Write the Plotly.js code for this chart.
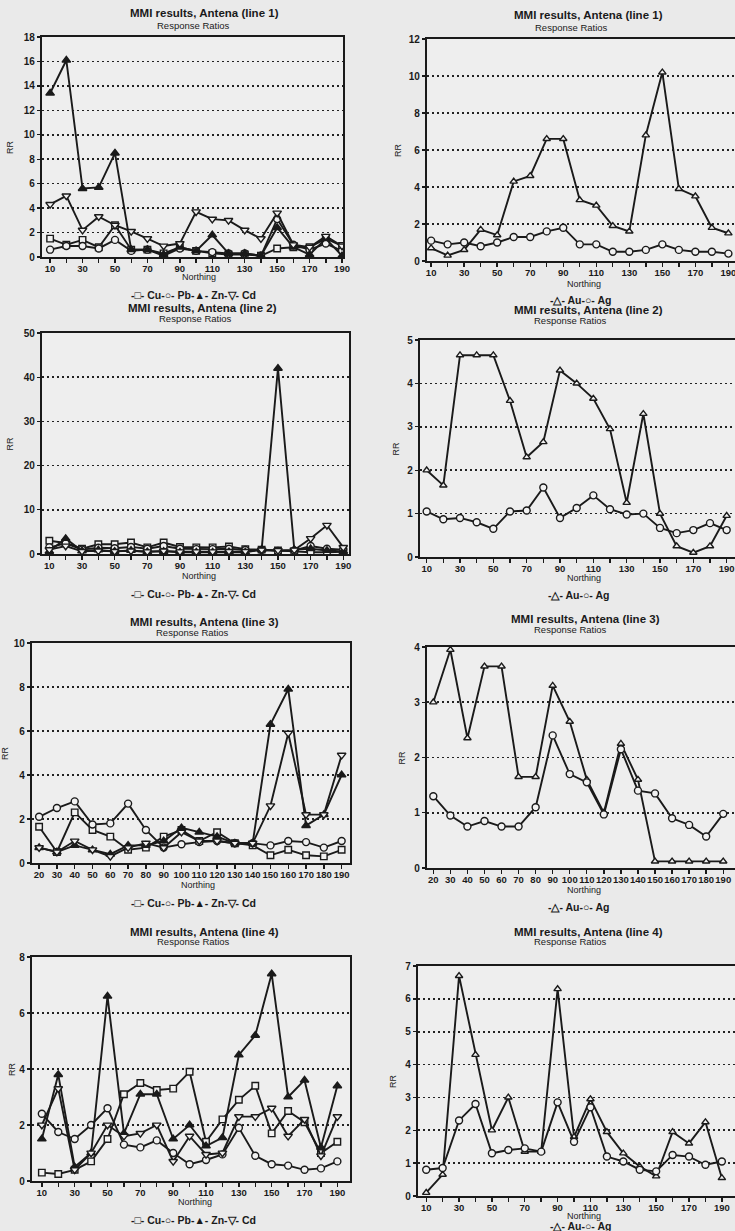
<!DOCTYPE html>
<html>
<head>
<meta charset="utf-8">
<script src="https://cdn.plot.ly/plotly-3.0.1.min.js"></script>
<style>
  html, body { margin: 0; padding: 0; background: #eaeaea; }
  #chart { width: 735px; height: 1231px; }
</style>
</head>
<body>
<div id="chart"></div>
<script>
// Sample stations along each line (Northing)
const northing = [10, 20, 30, 40, 50, 60, 70, 80, 90, 100, 110, 120, 130, 140, 150, 160, 170, 180, 190];
const northingLine3 = [20, 30, 40, 50, 60, 70, 80, 90, 100, 110, 120, 130, 140, 150, 160, 170, 180, 190];

// Tick labels
const tickTextAlternate = ['10', '', '30', '', '50', '', '70', '', '90', '', '110', '', '130', '', '150', '', '170', '', '190'];
const tickTextLine3 = ['20', '30', '40', '50', '60', '70', '80', '90', '100', '110', '120', '130', '140', '150', '160', '170', '180', '190'];

// Line 1 response ratios
const cuLine1 = [1.5, 1.0, 1.4, 0.8, 2.6, 0.6, 0.6, 0.3, 0.8, 0.5, 0.3, 0.2, 0.2, 0.1, 0.7, 0.8, 0.8, 1.5, 0.9];
const pbLine1 = [0.6, 0.9, 0.9, 0.7, 1.4, 0.5, 0.6, 0.1, 0.7, 0.5, 0.4, 0.3, 0.3, 0.1, 3.1, 1.0, 0.6, 1.1, 0.5];
const znLine1 = [13.4, 16.1, 5.6, 5.7, 8.5, 0.6, 0.6, 0.2, 0.8, 0.5, 1.8, 0.3, 0.3, 0.1, 2.4, 0.8, 0.2, 1.5, 0.1];
const cdLine1 = [4.3, 5.0, 2.2, 3.3, 2.6, 2.1, 1.5, 0.9, 1.1, 3.7, 3.1, 3.0, 2.2, 1.5, 3.6, 1.0, 0.8, 1.7, 0.9];
const auLine1 = [0.7, 0.3, 0.6, 1.7, 1.4, 4.3, 4.6, 6.6, 6.6, 3.3, 3.0, 1.9, 1.6, 6.8, 10.2, 3.9, 3.5, 1.8, 1.5];
const agLine1 = [1.1, 0.9, 1.0, 0.8, 1.0, 1.3, 1.3, 1.6, 1.8, 0.9, 0.9, 0.5, 0.5, 0.6, 0.9, 0.6, 0.5, 0.5, 0.4];

// Line 2 response ratios
const cuLine2 = [3.0, 2.5, 1.2, 2.2, 2.2, 2.6, 1.5, 2.6, 1.6, 1.5, 1.5, 1.7, 1.1, 1.0, 0.8, 0.6, 0.4, 0.4, 0.5];
const pbLine2 = [1.5, 2.4, 1.0, 1.4, 1.3, 1.6, 1.2, 1.8, 1.2, 1.1, 1.1, 1.2, 0.9, 0.9, 0.7, 0.8, 1.8, 1.2, 1.0];
const znLine2 = [0.6, 3.5, 0.7, 0.9, 0.6, 0.8, 0.5, 0.6, 0.4, 0.4, 0.4, 0.5, 0.4, 1.0, 42.0, 1.0, 1.2, 0.8, 0.6];
const cdLine2 = [1.0, 1.8, 0.6, 0.7, 0.6, 0.7, 0.5, 0.7, 0.5, 0.5, 0.5, 0.6, 0.6, 0.9, 0.8, 0.9, 3.5, 6.5, 1.5];
const auLine2 = [2.0, 1.65, 4.65, 4.65, 4.65, 3.6, 2.3, 2.65, 4.3, 4.0, 3.65, 2.95, 1.25, 3.3, 1.0, 0.25, 0.1, 0.25, 0.95];
const agLine2 = [1.05, 0.87, 0.9, 0.8, 0.65, 1.05, 1.07, 1.6, 0.9, 1.13, 1.42, 1.1, 0.98, 1.0, 0.67, 0.55, 0.62, 0.78, 0.62];

// Line 3 response ratios (stations 20-190)
const cuLine3 = [1.65, 0.5, 2.3, 1.5, 1.2, 0.6, 0.7, 1.2, 1.5, 1.0, 1.4, 0.9, 0.8, 0.35, 0.6, 0.35, 0.3, 0.6];
const pbLine3 = [2.1, 2.5, 2.8, 1.75, 1.8, 2.7, 1.5, 0.7, 0.85, 0.95, 1.0, 0.9, 0.9, 0.8, 1.0, 0.95, 0.7, 1.0];
const znLine3 = [0.7, 0.5, 0.8, 0.6, 0.4, 0.8, 0.8, 1.0, 1.6, 1.4, 1.2, 0.9, 0.9, 6.3, 7.9, 1.7, 2.2, 4.0];
const cdLine3 = [0.7, 0.5, 1.0, 0.6, 0.3, 0.7, 0.9, 0.7, 1.4, 1.0, 1.0, 0.9, 0.9, 2.6, 5.9, 2.2, 2.2, 4.9];
const auLine3 = [3.0, 3.95, 2.35, 3.65, 3.65, 1.65, 1.65, 3.3, 2.65, 1.6, 1.0, 2.25, 1.6, 0.12, 0.12, 0.12, 0.12, 0.12];
const agLine3 = [1.3, 0.95, 0.75, 0.85, 0.75, 0.75, 1.1, 2.4, 1.7, 1.55, 0.97, 2.15, 1.4, 1.35, 0.9, 0.78, 0.57, 0.98];

// Line 4 response ratios
const cuLine4 = [0.3, 0.25, 0.4, 0.7, 1.5, 3.1, 3.5, 3.25, 3.3, 3.9, 1.4, 2.2, 2.9, 3.4, 1.7, 2.5, 2.1, 1.0, 1.4];
const pbLine4 = [2.4, 1.75, 1.5, 2.0, 2.6, 1.3, 1.2, 1.45, 1.0, 0.6, 0.75, 0.95, 1.9, 0.9, 0.6, 0.55, 0.4, 0.45, 0.7];
const znLine4 = [1.5, 3.8, 0.5, 1.0, 6.6, 1.7, 3.1, 3.1, 1.5, 2.0, 1.25, 1.55, 4.5, 5.2, 7.4, 3.0, 3.6, 1.2, 3.4];
const cdLine4 = [2.0, 3.3, 0.4, 1.0, 2.0, 1.6, 1.7, 2.0, 0.7, 1.6, 0.95, 1.0, 2.3, 2.3, 2.6, 1.6, 2.2, 0.9, 2.3];
const auLine4 = [0.1, 0.65, 6.7, 4.3, 2.0, 3.0, 1.35, 1.35, 6.3, 1.8, 2.95, 1.95, 1.3, 0.9, 0.6, 1.95, 1.6, 2.25, 0.55];
const agLine4 = [0.8, 0.85, 2.3, 2.8, 1.3, 1.4, 1.45, 1.35, 2.85, 1.65, 2.7, 1.2, 1.05, 0.8, 0.75, 1.25, 1.2, 0.95, 1.05];

// Text
const titles = ['MMI results, Antena (line 1)', 'MMI results, Antena (line 2)', 'MMI results, Antena (line 3)', 'MMI results, Antena (line 4)'];
const subtitle = 'Response Ratios';
const xTitle = 'Northing';
const yTitle = 'RR';
const baseLegend = '-\u25A1- Cu-\u25CB- Pb-\u25B2- Zn-\u25BD- Cd';
const preciousLegend = '-\u25B3- Au-\u25CB- Ag';

// ---------- styling / layout ----------
const W = 735, H = 1231;
const INK = '#1a1a1a';
const PAPER = '#eaeaea';
const PLOT = '#eeeeee';
const FONT = 'Liberation Sans, Arial, sans-serif';

const markerStyle = {
  Cu: { symbol: 'square', fill: '#f2f2f2', size: 6.5 },
  Pb: { symbol: 'circle', fill: '#f2f2f2', size: 7 },
  Zn: { symbol: 'triangle-up', fill: INK, size: 7.5 },
  Cd: { symbol: 'triangle-down', fill: '#f2f2f2', size: 7.5 },
  Au: { symbol: 'triangle-up', fill: '#f2f2f2', size: 6.5 },
  Ag: { symbol: 'circle', fill: '#f2f2f2', size: 7 }
};

// pixel placement of each panel on the page
const panels = [
  { x: northing, tick: tickTextAlternate, series: { Cu: cuLine1, Pb: pbLine1, Zn: znLine1, Cd: cdLine1 }, title: titles[0], legend: baseLegend,
    left: 42, right: 343, top: 37, bottom: 257, yMax: 18, dtick: 2, xr: [5, 190.6],
    titleY: 13, subY: 25, northY: 277, legendY: 295, rrX: 10, titleX: 204, subX: 193, northX: 199, legendX: 193, rightCol: false },
  { x: northing, tick: tickTextAlternate, series: { Au: auLine1, Ag: agLine1 }, title: titles[0], legend: preciousLegend,
    left: 427, right: 735, top: 39, bottom: 261, yMax: 12, dtick: 2, xr: [7.5, 194],
    titleY: 15, subY: 28, northY: 284, legendY: 300, rrX: 398, titleX: 588, subX: 571, northX: 584, legendX: 580, rightCol: true },
  { x: northing, tick: tickTextAlternate, series: { Cu: cuLine2, Pb: pbLine2, Zn: znLine2, Cd: cdLine2 }, title: titles[1], legend: baseLegend,
    left: 42, right: 349, top: 333, bottom: 554, yMax: 50, dtick: 10, xr: [5.5, 193.5],
    titleY: 308, subY: 318, northY: 576, legendY: 594, rrX: 9, titleX: 202, subX: 195, northX: 199, legendX: 193, rightCol: false },
  { x: northing, tick: tickTextAlternate, series: { Au: auLine2, Ag: agLine2 }, title: titles[1], legend: preciousLegend,
    left: 420, right: 735, top: 340, bottom: 557, yMax: 5, dtick: 1, xr: [6, 195],
    titleY: 310, subY: 320, northY: 578, legendY: 595, rrX: 395, titleX: 588, subX: 570, northX: 584, legendX: 578, rightCol: true },
  { x: northingLine3, tick: tickTextLine3, series: { Cu: cuLine3, Pb: pbLine3, Zn: znLine3, Cd: cdLine3 }, title: titles[2], legend: baseLegend,
    left: 32, right: 350, top: 643, bottom: 863, yMax: 10, dtick: 2, xr: [16, 194.7],
    titleY: 622, subY: 632, northY: 885, legendY: 903, rrX: 5, titleX: 204, subX: 192, northX: 198, legendX: 193, rightCol: false },
  { x: northingLine3, tick: tickTextLine3, series: { Au: auLine3, Ag: agLine3 }, title: titles[2], legend: preciousLegend,
    left: 427, right: 735, top: 647, bottom: 868, yMax: 4, dtick: 1, xr: [16.3, 196.9],
    titleY: 619, subY: 629, northY: 890, legendY: 907, rrX: 402, titleX: 585, subX: 570, northX: 584, legendX: 578, rightCol: true },
  { x: northing, tick: tickTextAlternate, series: { Cu: cuLine4, Pb: pbLine4, Zn: znLine4, Cd: cdLine4 }, title: titles[3], legend: baseLegend,
    left: 32, right: 350, top: 957, bottom: 1181, yMax: 8, dtick: 2, xr: [4, 197.7],
    titleY: 932, subY: 941, northY: 1202, legendY: 1220, rrX: 12, titleX: 205, subX: 193, northX: 195, legendX: 193, rightCol: false },
  { x: northing, tick: tickTextAlternate, series: { Au: auLine4, Ag: agLine4 }, title: titles[3], legend: preciousLegend,
    left: 418, right: 735, top: 966, bottom: 1196, yMax: 7, dtick: 1, xr: [5, 198],
    titleY: 932, subY: 941, northY: 1216, legendY: 1226, rrX: 393, titleX: 588, subX: 570, northX: 584, legendX: 580, rightCol: true }
];

const px = v => v / W;
const py = v => 1 - v / H;

const traces = [];
const annotations = [];
const layout = {
  width: W, height: H,
  margin: { l: 0, r: 0, t: 0, b: 0 },
  paper_bgcolor: PAPER, plot_bgcolor: PLOT,
  showlegend: false,
  font: { family: FONT, color: INK, size: 10 },
  annotations: annotations
};

panels.forEach((p, i) => {
  const n = i + 1;
  const xa = 'xaxis' + (n === 1 ? '' : n);
  const ya = 'yaxis' + (n === 1 ? '' : n);
  const xref = 'x' + (n === 1 ? '' : n);
  const yref = 'y' + (n === 1 ? '' : n);

  Object.keys(p.series).forEach(name => {
    const st = markerStyle[name];
    traces.push({
      type: 'scatter', mode: 'lines+markers', name: name,
      x: p.x, y: p.series[name], xaxis: xref, yaxis: yref,
      line: { color: INK, width: 1.9 },
      marker: { symbol: st.symbol, size: st.size, color: st.fill, line: { color: INK, width: 1.4 } }
    });
  });

  layout[xa] = {
    domain: [px(p.left), Math.min(1, px(p.right))],
    anchor: yref,
    range: p.xr,
    tickmode: 'array', tickvals: p.x, ticktext: p.tick,
    ticks: 'outside', ticklen: 4, tickwidth: 1.4, tickcolor: INK,
    ticklabelstandoff: -3,
    ticklabeloverflow: 'allow',
    tickangle: 0,
    tickfont: { family: FONT, size: 9.5, color: INK, weight: 'bold' },
    showgrid: false, zeroline: false,
    showline: true, linecolor: INK, linewidth: 2.2, mirror: true,
    fixedrange: true
  };
  layout[ya] = {
    domain: [py(p.bottom), py(p.top)],
    anchor: xref,
    range: [0, p.yMax], dtick: p.dtick, tick0: 0,
    ticks: 'outside', ticklen: 3, tickwidth: 1.3, tickcolor: INK,
    tickfont: { family: FONT, size: 10, color: INK, weight: 'bold' },
    showgrid: true, gridcolor: '#222222', gridwidth: 1.6, griddash: '1.6px,3.4px',
    zeroline: false,
    showline: true, linecolor: INK, linewidth: 2.2, mirror: !p.rightCol,
    fixedrange: true
  };

  const txt = (x, y, text, size, bold, extra) => Object.assign({
    xref: 'paper', yref: 'paper', x: px(x), y: py(y), text: text,
    showarrow: false, xanchor: 'center', yanchor: 'middle',
    font: { family: FONT, size: size, color: INK, weight: bold ? 'bold' : 'normal' }
  }, extra || {});

  annotations.push(txt(p.titleX, p.titleY, p.title, 11.5, true));
  annotations.push(txt(p.subX, p.subY, subtitle, 9.5, false));
  annotations.push(txt(p.northX, p.northY, xTitle, 9, false));
  annotations.push(txt(p.legendX, p.legendY, p.legend, 10.5, true));
  annotations.push(txt(p.rrX, (p.top + p.bottom) / 2, yTitle, 9, false, { textangle: -90 }));
});

Plotly.newPlot('chart', traces, layout, { displayModeBar: false, staticPlot: true });
</script>
</body>
</html>
